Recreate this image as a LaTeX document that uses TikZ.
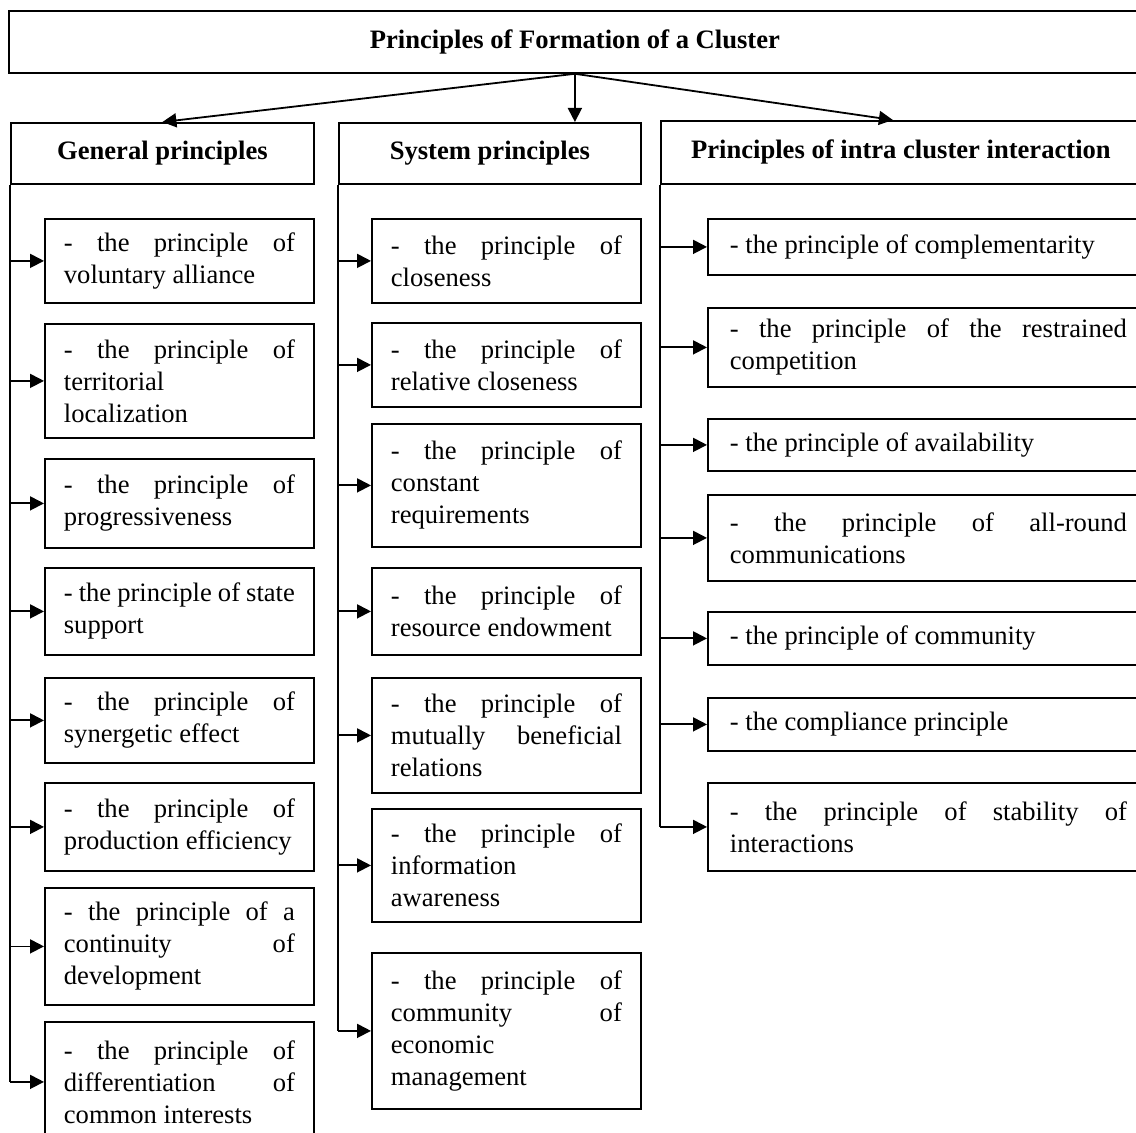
\documentclass[tikz,border=0pt]{standalone}
\usepackage{fontspec}
\setmainfont{Liberation Serif}
\usetikzlibrary{arrows.meta,positioning}

\begin{document}
\begin{tikzpicture}[
    x=0.5pt, y=-0.5pt,
    frame/.style={draw,line width=0.9pt,anchor=north west,inner sep=0pt,
                  font=\fontsize{13.3}{16}\selectfont\bfseries},
    item/.style={draw,line width=0.9pt,anchor=north west,
                 text width=115.5pt,inner xsep=9.5pt,inner ysep=0pt,
                 align=justify,font=\fontsize{13.3}{16}\selectfont},
    wide/.style={item,text width=198.5pt,inner xsep=11pt},
    link/.style={line width=0.9pt,-{Triangle[length=7pt,width=7pt]}},
    spine/.style={line width=0.9pt}
  ]
  \clip (0,0) rectangle (1136,1133);
  %% Title and the three groups
  \node[frame,minimum width=566pt,minimum height=31pt] (top) at (8,10)
    {Principles of Formation of a Cluster};
  \node[frame,minimum width=151.5pt,minimum height=30.5pt] (gen) at (10,122)
    {General principles};
  \node[frame,minimum width=151pt,minimum height=30.5pt] (sys) at (338,122)
    {System principles};
  \node[frame,minimum width=240pt,minimum height=31.5pt] (intra) at (660,120)
    {Principles of intra cluster interaction};
  \draw[link] (top.south) -- (gen.north);
  \draw[link] (top.south) -- (top.south |- sys.north);
  \draw[link] (top.south) -- ([xshift=-4pt]intra.north);
  %% General principles
  \node[item,minimum height=42pt]   (g1) at (44,218)  {- the principle of\linebreak voluntary alliance};
  \node[item,minimum height=57pt]   (g2) at (44,323)  {- the principle of\linebreak territorial\\ localization};
  \node[item,minimum height=44.5pt] (g3) at (44,458)  {- the principle of\linebreak progressiveness};
  \node[item,minimum height=43.5pt] (g4) at (44,567)  {- the principle of state\linebreak support};
  \node[item,minimum height=42.5pt] (g5) at (44,677)  {- the principle of\linebreak synergetic effect};
  \node[item,minimum height=44pt]   (g6) at (44,782)  {- the principle of\linebreak production efficiency};
  \node[item,minimum height=58.5pt] (g7) at (44,887)  {- the principle of a\linebreak continuity of\linebreak development};
  \node[item,minimum height=60pt]   (g8) at (44,1021) {- the principle of\linebreak differentiation of\linebreak common interests};
  %% System principles
  \node[item,minimum height=42pt]   (s1) at (371,218) {- the principle of\linebreak closeness};
  \node[item,minimum height=42pt]   (s2) at (371,322) {- the principle of\linebreak relative closeness};
  \node[item,minimum height=61.5pt] (s3) at (371,423) {- the principle of\linebreak constant\\ requirements};
  \node[item,minimum height=43.5pt] (s4) at (371,567) {- the principle of\linebreak resource endowment};
  \node[item,minimum height=57.5pt] (s5) at (371,677) {- the principle of\linebreak mutually beneficial\linebreak relations};
  \node[item,minimum height=56.5pt] (s6) at (371,808) {- the principle of\linebreak information\\ awareness};
  \node[item,minimum height=78pt]   (s7) at (371,952) {- the principle of\linebreak community of\linebreak economic\\ management};
  %% Principles of intra cluster interaction
  \node[wide,minimum height=28pt]   (c1) at (707,218) {- the principle of complementarity};
  \node[wide,minimum height=39.5pt] (c2) at (707,307) {- the principle of the restrained\linebreak competition};
  \node[wide,minimum height=26pt]   (c3) at (707,418) {- the principle of availability};
  \node[wide,minimum height=43pt]   (c4) at (707,494) {- the principle of all-round\linebreak communications};
  \node[wide,minimum height=26.5pt] (c5) at (707,611) {- the principle of community};
  \node[wide,minimum height=26.5pt] (c6) at (707,697) {- the compliance principle};
  \node[wide,minimum height=44pt]   (c7) at (707,782) {- the principle of stability of\linebreak interactions};
  %% Spines with arrows to each box
  \draw[spine] (gen.south west) -- (gen.south west |- g8.west);
  \draw[spine] (sys.south west) -- (sys.south west |- s7.west);
  \draw[spine] (intra.south west) -- (intra.south west |- c7.west);
  \foreach \n in {g1,g2,g3,g4,g5,g6,g7,g8}
    \draw[link] (gen.south west |- \n.west) -- (\n.west);
  \foreach \n in {s1,s2,s3,s4,s5,s6,s7}
    \draw[link] (sys.south west |- \n.west) -- (\n.west);
  \foreach \n in {c1,c2,c3,c4,c5,c6,c7}
    \draw[link] (intra.south west |- \n.west) -- (\n.west);
\end{tikzpicture}
\end{document}
